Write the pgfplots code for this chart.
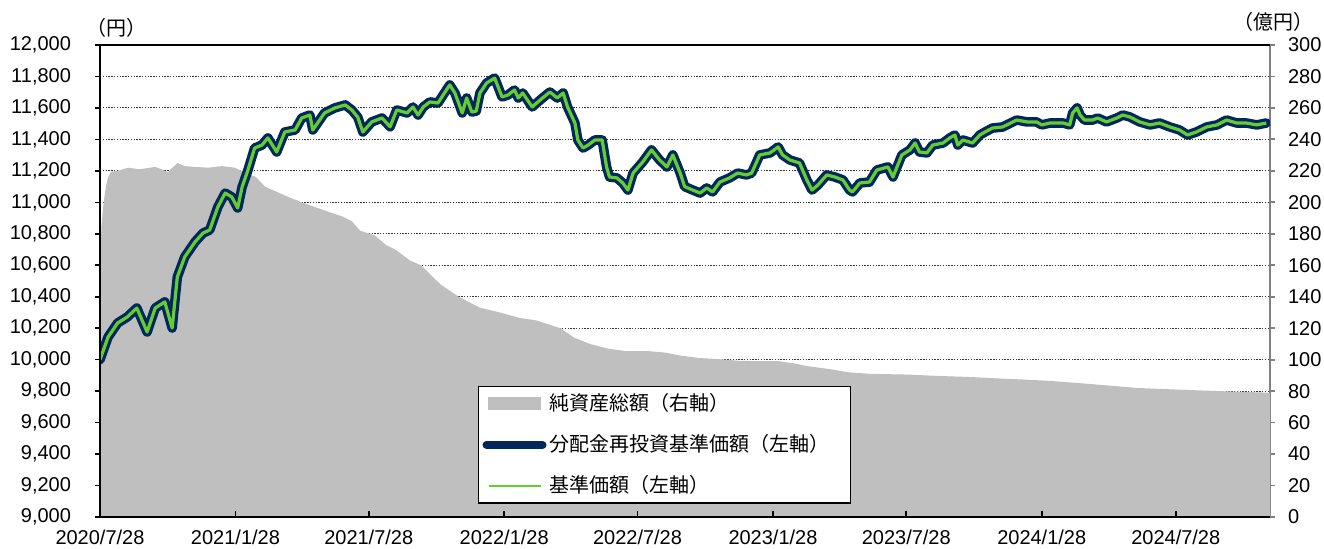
\documentclass[border=0pt]{standalone}
\usepackage{pgfplots}
\pgfplotsset{compat=1.18}
\usepackage{pgfplotstable}
\usepackage{fontspec}
\setmainfont{Liberation Sans}
\newfontfamily\cjk{Noto Sans CJK JP}
\definecolor{navyline}{RGB}{0,40,90}
\definecolor{greenline}{RGB}{102,204,51}
\definecolor{assetgray}{RGB}{191,191,191}
\definecolor{axgray}{RGB}{128,128,128}

\pgfplotstableread{
day assets
0 160
2 185
5 200
8 210
11 216
15 219.5
24 220
38 222
54 221
75 222.5
84 221
92 219
105 225
115 223
129 222.5
147 222
166 223
183 222
197 219
212 216
224 210
243 206
258 203
274 200
292 197
310 194
329 191
342 188
353 182
373 179
388 173
401 170
421 163
436 160
462 148
487 140
516 133
543 130
570 126.5
592 125
625 120
644 114
665 110
690 107
713 105.5
743 105.5
767 104.5
788 102.6
815 101
839 100.4
869 99.2
922 99
944 97.5
959 96
991 94
1016 92
1045 91
1098 90.5
1141 89.6
1181 89
1222 88
1253 87.4
1290 86.5
1332 85
1371 83.5
1409 82
1461 81
1521 80
1586 79
1589 78.5
}\assets

\pgfplotstableread{
day reinv nav
0 10000 10000
11 10144 10144
24 10233 10233
37 10271 10271
50 10328 10328
64 10176 10176
75 10328 10328
88 10367 10367
98 10201 10201
105 10525 10525
115 10652 10652
129 10748 10748
140 10805 10805
149 10824 10824
160 10970 10970
170 11059 11059
179 11034 11034
187 10964 10964
193 11097 11097
201 11206 11206
210 11345 11345
220 11364 11364
228 11409 11409
240 11320 11320
251 11447 11447
265 11460 11460
274 11536 11536
285 11555 11555
289 11460 11460
305 11568 11568
319 11600 11600
333 11619 11619
342 11587 11587
350 11542 11542
357 11447 11447
369 11511 11511
383 11536 11536
394 11480 11480
403 11587 11587
417 11568 11568
425 11606 11606
432 11555 11555
439 11606 11606
448 11638 11638
459 11631 11631
466 11682 11682
475 11746 11746
482 11695 11695
492 11568 11568
498 11663 11663
505 11574 11574
511 11580 11580
516 11695 11695
525 11758 11758
536 11790 11790
546 11670 11670
554 11682 11682
563 11714 11714
568 11663 11663
574 11695 11695
587 11606 11606
593 11631 11631
601 11663 11663
611 11701 11701
621 11663 11663
629 11695 11695
635 11606 11606
645 11504 11504
649 11396 11396
656 11345 11345
663 11364 11364
672 11396 11396
682 11396 11396
688 11225 11225
692 11161 11161
702 11155 11155
710 11123 11123
717 11078 11078
724 11186 11186
737 11256 11256
749 11333 11333
760 11269 11269
770 11225 11225
778 11301 11301
788 11186 11186
794 11100 11100
805 11078 11078
815 11059 11059
824 11091 11091
832 11066 11066
842 11129 11129
855 11155 11155
866 11186 11186
878 11174 11174
885 11186 11186
896 11301 11301
910 11314 11314
921 11352 11352
927 11301 11301
937 11269 11269
950 11250 11250
960 11142 11142
967 11078 11078
975 11110 11110
987 11174 11174
998 11161 11161
1009 11142 11142
1018 11078 11078
1022 11066 11066
1032 11123 11123
1045 11129 11129
1055 11205 11205
1070 11225 11225
1077 11161 11161
1089 11301 11301
1100 11333 11333
1107 11377 11377
1113 11320 11320
1123 11314 11314
1131 11364 11364
1145 11377 11377
1154 11409 11409
1161 11428 11428
1165 11364 11364
1172 11396 11396
1185 11377 11377
1195 11428 11428
1202 11447 11447
1212 11472 11472
1226 11479 11479
1245 11523 11523
1259 11511 11511
1272 11511 11511
1279 11492 11492
1290 11504 11504
1308 11504 11504
1317 11492 11492
1321 11568 11568
1327 11600 11600
1331 11555 11555
1337 11523 11523
1348 11523 11523
1355 11536 11536
1367 11511 11511
1381 11536 11536
1389 11555 11555
1399 11542 11542
1412 11511 11511
1426 11492 11492
1439 11504 11504
1453 11479 11479
1466 11460 11460
1477 11428 11428
1489 11447 11447
1503 11479 11479
1517 11492 11492
1530 11523 11523
1544 11504 11504
1557 11504 11504
1571 11492 11492
1584 11504 11504
}\navdata

\begin{document}
\begin{tikzpicture}
\path[use as bounding box] (-50pt,-16pt) rectangle (612pt,258.5pt);
% right axis: net assets (area) + grid
\begin{axis}[
  at={(0,0)}, anchor=south west, scale only axis,
  width=585pt, height=236pt,
  xmin=0, xmax=1589, ymin=0, ymax=300,
  axis x line=none, axis y line*=right,
  ytick={0,20,...,300},
  ymajorgrids,
  major grid style={dash pattern=on 0.7pt off 0.7pt, black!80, line width=0.55pt},
  tick align=outside, major tick length=2.5pt,
  y axis line style={axgray, line width=1pt, -},
  ytick style={axgray, line width=0.9pt},
  yticklabel style={font=\fontsize{10}{12}\selectfont, xshift=3pt},
  /pgf/number format/assume math mode=true,
  scaled y ticks=false,
]
\addplot[fill=assetgray, draw=none] table[x=day, y=assets]{\assets} \closedcycle;
\end{axis}
% left axis: NAV lines
\begin{axis}[
  at={(0,0)}, anchor=south west, scale only axis,
  width=585pt, height=236pt,
  xmin=0, xmax=1589, ymin=9000, ymax=12000,
  axis x line*=bottom, axis y line*=left,
  axis on top,
  xtick={0,184,365,549,730,914,1095,1279,1461},
  xticklabels={2020/7/28,2021/1/28,2021/7/28,2022/1/28,2022/7/28,2023/1/28,2023/7/28,2024/1/28,2024/7/28},
  ytick={9000,9200,...,12000},
  tick align=outside, major tick length=2.5pt,
  xtick style={black, line width=0.8pt, yshift=3pt},
  ytick style={black, line width=0.8pt},
  x axis line style={black, line width=1.3pt, -},
  y axis line style={black, line width=1.1pt, -},
  xticklabel style={font=\fontsize{10}{12}\selectfont, yshift=-0.5pt},
  yticklabel style={font=\fontsize{10}{12}\selectfont, xshift=-8.5pt},
  /pgf/number format/assume math mode=true,
  /pgf/number format/fixed, /pgf/number format/1000 sep={,},
  scaled y ticks=false,
  legend cell align=left,
  legend style={at={(0.323,0.2775)}, anchor=north west, draw=black, line width=0.6pt,
    fill=white, font={\cjk\fontsize{10}{12}\selectfont}, row sep=7.5pt, inner sep=2pt,
    nodes={inner sep=1.5pt},
    /tikz/every odd column/.append style={column sep=0pt}},
]
\addlegendimage{legend image code/.code={\fill[assetgray] (0pt,-3pt) rectangle (26pt,3pt);}}
\addlegendentry{純資産総額（右軸）}
\addplot[navyline, line width=4.8pt, line join=round, line cap=round,
  legend image code/.code={\draw[navyline, line width=4pt, line cap=round] (-1pt,0pt) -- (27pt,0pt);}]
  table[x=day, y=reinv]{\navdata};
\addlegendentry{分配金再投資基準価額（左軸）\rule{7pt}{0pt}}
\addplot[greenline, line width=1.6pt, line join=round,
  legend image code/.code={\draw[greenline, line width=1.2pt] (0pt,0pt) -- (26pt,0pt);}]
  table[x=day, y=nav]{\navdata};
\addlegendentry{基準価額（左軸）}
\draw[black, line width=1.1pt] (rel axis cs:0,1) -- (rel axis cs:1,1);
\end{axis}
\node[anchor=west, inner sep=0pt, font={\cjk\fontsize{10}{12}\selectfont}] at (-7pt,244.5pt) {（円）};
\node[anchor=east, inner sep=0pt, font={\cjk\fontsize{10}{12}\selectfont}] at (607pt,247.5pt) {（億円）};
\end{tikzpicture}
\end{document}
